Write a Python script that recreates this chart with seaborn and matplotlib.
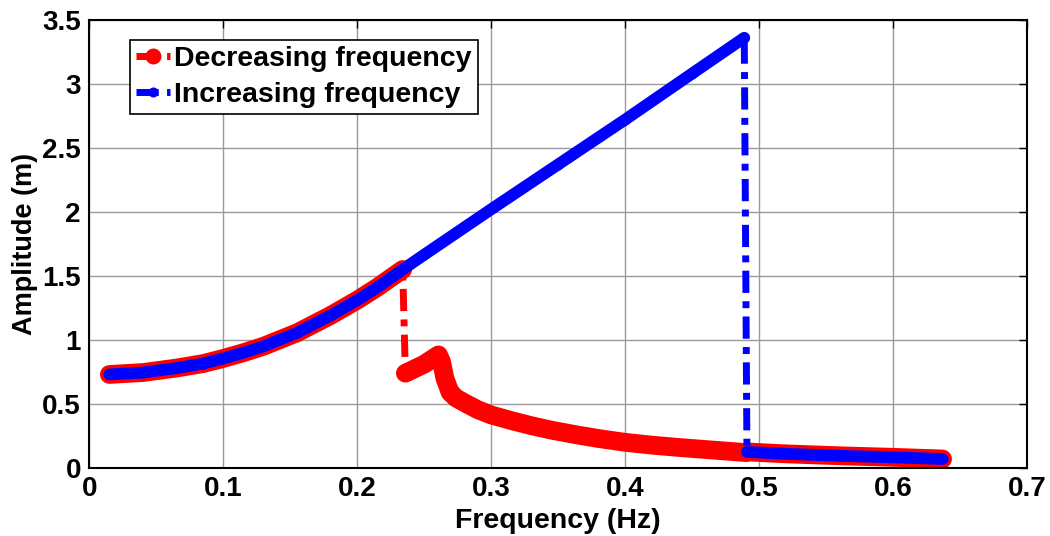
import matplotlib
matplotlib.use("Agg")
import matplotlib.pyplot as plt
import numpy as np
import pandas as pd
import seaborn as sns

# resonant branch shared by both sweeps (Hz, m)
res_freq = [0.015, 0.04, 0.065, 0.085, 0.10, 0.115, 0.13, 0.155, 0.18, 0.20,
            0.215, 0.234]
res_amp = [0.73, 0.745, 0.78, 0.815, 0.855, 0.90, 0.95, 1.055, 1.19, 1.31,
           1.41, 1.55]

# increasing sweep keeps climbing until it drops at ~0.49 Hz
up_freq = [0.25, 0.30, 0.35, 0.40, 0.45, 0.489]
up_amp = [1.665, 2.02, 2.37, 2.72, 3.08, 3.36]

# decreasing sweep: low branch after the jump at ~0.235 Hz
low_freq = [0.236, 0.25, 0.2607, 0.263, 0.2655, 0.2694, 0.274, 0.28, 0.29, 0.30,
            0.315, 0.33, 0.345, 0.363, 0.38, 0.40, 0.42, 0.44, 0.465, 0.49]
low_amp = [0.74, 0.81, 0.883, 0.83, 0.70, 0.59, 0.545, 0.51, 0.455, 0.414,
           0.37, 0.33, 0.295, 0.26, 0.23, 0.20, 0.178, 0.16, 0.14, 0.12]

# common high-frequency tail
tail_freq = [0.491, 0.52, 0.56, 0.60, 0.637]
tail_amp = [0.125, 0.11, 0.095, 0.083, 0.07]

x_ticks = [0, 0.1, 0.2, 0.3, 0.4, 0.5, 0.6, 0.7]
y_ticks = [0, 0.5, 1, 1.5, 2, 2.5, 3, 3.5]

sns.set_theme(style="white")
plt.rcParams["font.family"] = ["Liberation Sans", "DejaVu Sans"]
plt.rcParams["font.weight"] = "bold"
for k in ["text.color", "axes.labelcolor", "xtick.color", "ytick.color"]:
    plt.rcParams[k] = "black"

fig = plt.figure(figsize=(10.5, 5.36), dpi=100)
ax = fig.add_axes([0.085, 0.127, 0.893, 0.836])

red_branches = [(res_freq, res_amp), (low_freq + tail_freq, low_amp + tail_amp)]
blue_branches = [(res_freq + up_freq, res_amp + up_amp), (tail_freq, tail_amp)]

dec = pd.DataFrame({"f": (low_freq + tail_freq)[::-1] + res_freq[::-1],
                    "a": (low_amp + tail_amp)[::-1] + res_amp[::-1]})
inc = pd.DataFrame({"f": res_freq + up_freq + tail_freq,
                    "a": res_amp + up_amp + tail_amp})

dashdot = (0, (3.2, 1.2, 1.0, 1.2))
red_w, blue_w = 13.5, 8.5

# decreasing frequency (red): thick band under circle markers
for bf, ba in red_branches:
    sns.lineplot(x=bf, y=ba, ax=ax, color="red", linewidth=red_w, sort=False,
                 estimator=None, solid_capstyle="round", solid_joinstyle="round")
sns.lineplot(data=dec, x="f", y="a", ax=ax, color="red", linewidth=5,
             linestyle=dashdot, marker="o", markersize=red_w * 0.85,
             markeredgewidth=0, sort=False, estimator=None,
             label="Decreasing frequency")

# increasing frequency (blue): band under dot markers
for bf, ba in blue_branches:
    sns.lineplot(x=bf, y=ba, ax=ax, color="blue", linewidth=blue_w, sort=False,
                 estimator=None, solid_capstyle="round", solid_joinstyle="round")
sns.lineplot(data=inc, x="f", y="a", ax=ax, color="blue", linewidth=5,
             linestyle=dashdot, marker=".", markersize=blue_w * 1.7,
             markeredgewidth=0, sort=False, estimator=None,
             label="Increasing frequency")

ax.set_xlim(0, 0.7)
ax.set_ylim(0, 3.5)
ax.set_xticks(x_ticks)
ax.set_yticks(y_ticks)
ax.set_xticklabels([f"{t:g}" for t in x_ticks])
ax.set_yticklabels([f"{t:g}" for t in y_ticks])
ax.grid(True, color="#9a9a9a", linewidth=1.0)
ax.set_axisbelow(True)
for s in ax.spines.values():
    s.set_color("black")
    s.set_linewidth(1.5)
ax.tick_params(direction="in", length=6, width=1, top=True, right=True,
               labelsize=20, pad=6, colors="black")
ax.set_xlabel("Frequency (Hz)", fontsize=20.5, fontweight="bold", labelpad=4)
ax.set_ylabel("Amplitude (m)", fontsize=19.5, fontweight="bold", labelpad=3)

leg = ax.legend(loc="upper left", bbox_to_anchor=(0.043, 0.955), borderaxespad=0,
                fontsize=20.5, frameon=True, fancybox=False, framealpha=1,
                edgecolor="black", handlelength=1.2, handletextpad=0.15,
                labelspacing=0.33, borderpad=0.22)
leg.get_frame().set_linewidth(1.2)
for t in leg.get_texts():
    t.set_fontweight("bold")

fig.savefig("out.png", dpi=100)
